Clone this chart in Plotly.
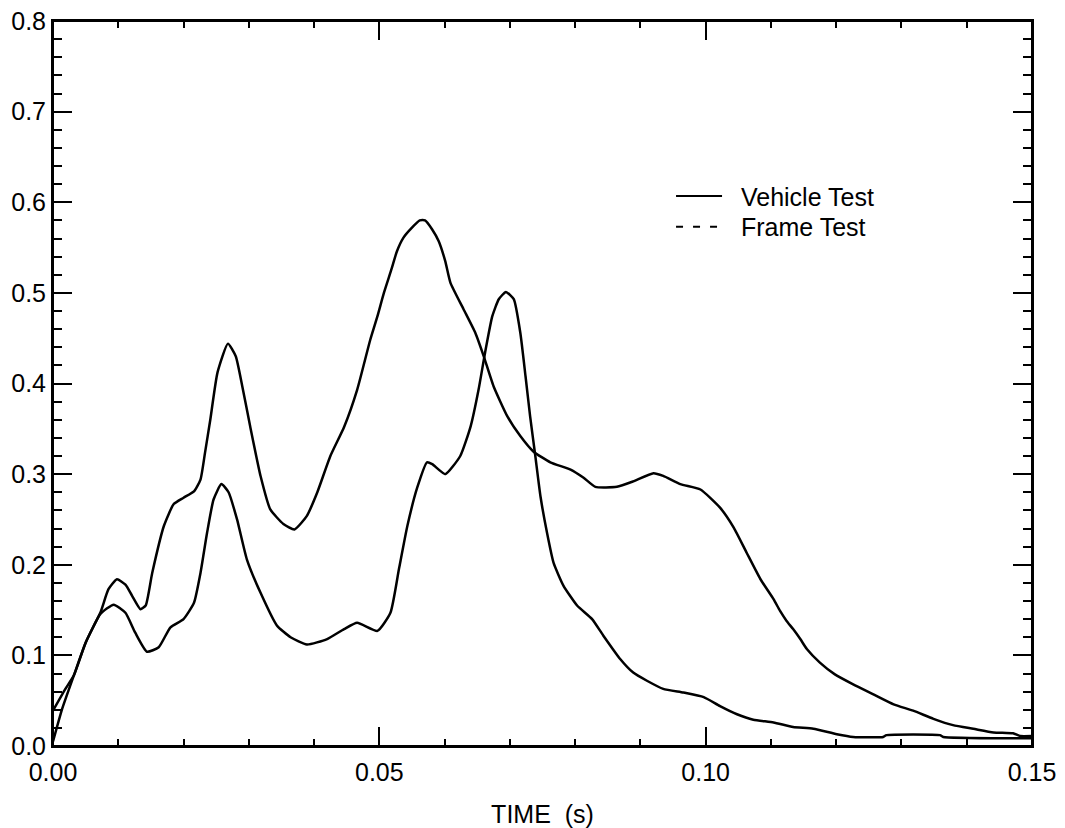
import plotly.graph_objects as go

# Vehicle Test (broad curve, peak ~0.58)
vehicle_t = [0.0, 0.0014, 0.0032, 0.0050, 0.0073, 0.0085, 0.0098, 0.0111, 0.0121, 0.0134,
             0.0142, 0.0152, 0.0170, 0.0185, 0.0200, 0.0216, 0.0226, 0.0233, 0.0241, 0.0252,
             0.0268, 0.0280, 0.0290, 0.0302, 0.0318, 0.0333, 0.0353, 0.0370, 0.0389, 0.0405,
             0.0425, 0.0446, 0.0466, 0.0486, 0.0497, 0.0507, 0.0519, 0.0527, 0.0537, 0.0550,
             0.0562, 0.0570, 0.0581, 0.0591, 0.0601, 0.0609, 0.0629, 0.0647, 0.0660, 0.0675,
             0.0696, 0.0716, 0.0736, 0.0762, 0.0793, 0.0813, 0.0831, 0.0864, 0.0889, 0.0920,
             0.0935, 0.0961, 0.0992, 0.1022, 0.1043, 0.1063, 0.1084, 0.1104, 0.1114, 0.1124,
             0.1134, 0.1145, 0.1155, 0.1175, 0.1198, 0.1226, 0.1257, 0.1288, 0.1318, 0.1349,
             0.1379, 0.1410, 0.1441, 0.1471, 0.1482, 0.1500]
vehicle_y = [0.005, 0.041, 0.078, 0.114, 0.148, 0.173, 0.184, 0.178, 0.166, 0.151,
             0.155, 0.191, 0.243, 0.267, 0.274, 0.281, 0.294, 0.324, 0.360, 0.412,
             0.444, 0.430, 0.397, 0.353, 0.298, 0.261, 0.245, 0.239, 0.254, 0.280,
             0.320, 0.352, 0.393, 0.448, 0.474, 0.500, 0.527, 0.546, 0.561, 0.572,
             0.580, 0.580, 0.570, 0.557, 0.535, 0.511, 0.482, 0.456, 0.430, 0.397,
             0.364, 0.342, 0.325, 0.313, 0.305, 0.296, 0.286, 0.286, 0.292, 0.301,
             0.298, 0.289, 0.283, 0.263, 0.241, 0.213, 0.184, 0.162, 0.149, 0.138,
             0.129, 0.118, 0.107, 0.092, 0.079, 0.068, 0.057, 0.046, 0.039, 0.030,
             0.023, 0.019, 0.015, 0.014, 0.011, 0.011]

# Frame Test (sharper curve, peak ~0.50)
frame_t = [0.0, 0.0019, 0.0032, 0.0050, 0.0073, 0.0093, 0.0111, 0.0126, 0.0144, 0.0162,
           0.0180, 0.0200, 0.0216, 0.0226, 0.0236, 0.0246, 0.0258, 0.0269, 0.0282, 0.0297,
           0.0318, 0.0343, 0.0364, 0.0389, 0.0420, 0.0446, 0.0466, 0.0497, 0.0517, 0.0530,
           0.0543, 0.0558, 0.0573, 0.0581, 0.0601, 0.0624, 0.0640, 0.0652, 0.0662, 0.0673,
           0.0683, 0.0694, 0.0706, 0.0716, 0.0724, 0.0731, 0.0739, 0.0747, 0.0757, 0.0767,
           0.0782, 0.0803, 0.0826, 0.0843, 0.0869, 0.0889, 0.0910, 0.0935, 0.0966, 0.0997,
           0.1022, 0.1048, 0.1073, 0.1104, 0.1134, 0.1165, 0.1201, 0.1226, 0.1272, 0.1277,
           0.1359, 0.1364, 0.1470, 0.1500]
frame_y = [0.039, 0.063, 0.078, 0.114, 0.146, 0.156, 0.147, 0.125, 0.104, 0.109,
           0.131, 0.140, 0.158, 0.191, 0.235, 0.272, 0.289, 0.280, 0.250, 0.206,
           0.169, 0.133, 0.120, 0.112, 0.118, 0.129, 0.136, 0.127, 0.147, 0.195,
           0.243, 0.285, 0.313, 0.311, 0.300, 0.320, 0.353, 0.393, 0.434, 0.474,
           0.493, 0.501, 0.493, 0.456, 0.408, 0.364, 0.320, 0.275, 0.235, 0.202,
           0.177, 0.155, 0.140, 0.122, 0.096, 0.081, 0.072, 0.063, 0.059, 0.054,
           0.044, 0.035, 0.029, 0.026, 0.021, 0.019, 0.013, 0.010, 0.010, 0.012,
           0.012, 0.010, 0.0085, 0.0085]

series_names = ["Vehicle Test", "Frame Test"]
x_title = "TIME\u00a0 (s)"

FONT = "Liberation Sans, Arial, sans-serif"
FS = 25
LW = 2.5

fig = go.Figure()
fig.add_trace(go.Scatter(x=vehicle_t, y=vehicle_y, mode="lines", showlegend=False,
                         line=dict(color="black", width=LW, shape="spline", smoothing=0.5)))
fig.add_trace(go.Scatter(x=frame_t, y=frame_y, mode="lines", showlegend=False,
                         line=dict(color="black", width=LW, shape="spline", smoothing=0.5)))
# legend entries
fig.add_trace(go.Scatter(x=[None], y=[None], mode="lines", name="\u00a0\u00a0" + series_names[0],
                         legend="legend", line=dict(color="black", width=2)))
fig.add_trace(go.Scatter(x=[None], y=[None], mode="lines", name="\u00a0\u00a0" + series_names[1],
                         legend="legend2", line=dict(color="black", width=2, dash="7px,10px")))

axis_common = dict(
    showgrid=False, zeroline=False, showline=True, linecolor="black", linewidth=2,
    mirror="allticks", ticks="inside", ticklen=19, tickwidth=2, tickcolor="black",
    automargin=False, ticklabeloverflow="allow",
    tickfont=dict(family=FONT, size=FS, color="black"),
)

legend_common = dict(xanchor="left", yanchor="top", bgcolor="rgba(0,0,0,0)",
                     borderwidth=0, itemwidth=46,
                     font=dict(family=FONT, size=FS, color="black"))

# page body has an 8px margin, so the figure is sized to fit the 1065x828 window
fig.update_layout(
    width=1057, height=820,
    margin=dict(l=45, r=33, t=13, b=82),
    paper_bgcolor="white", plot_bgcolor="white",
    font=dict(family=FONT, size=FS, color="black"),
    xaxis=dict(range=[0, 0.15], tick0=0, dtick=0.05, tickformat=".2f", ticklabelstandoff=3,
               minor=dict(dtick=0.01, ticklen=7, tickwidth=2, tickcolor="black", ticks="inside"),
               title=dict(text=x_title, font=dict(family=FONT, size=FS, color="black"), standoff=20),
               **axis_common),
    yaxis=dict(range=[0, 0.8], tick0=0, dtick=0.1, tickformat=".1f",
               minor=dict(dtick=0.02, ticklen=9, tickwidth=2, tickcolor="black", ticks="inside"),
               **axis_common),
    legend=dict(x=0.6313, y=0.790, **legend_common),
    legend2=dict(x=0.6313, y=0.7476, **legend_common),
    showlegend=True,
    # plot frame (box around the plotting area)
    shapes=[dict(type="rect", xref="paper", yref="paper", x0=0, x1=1, y0=0, y1=1,
                 line=dict(color="black", width=2), fillcolor="rgba(0,0,0,0)", layer="above")],
)

fig.write_html("out.html")
